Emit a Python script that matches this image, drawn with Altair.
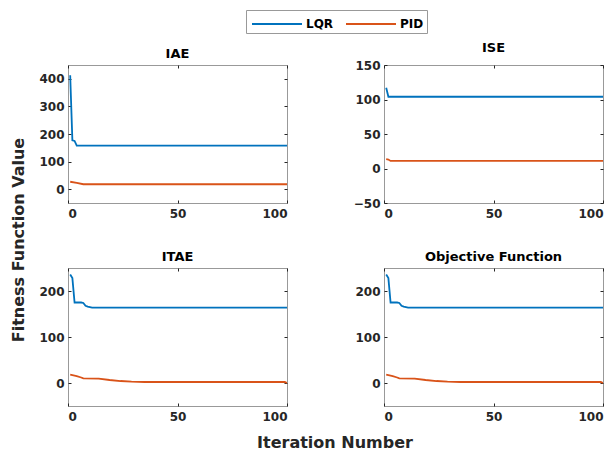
import altair as alt
import pandas as pd

# ---- data ----
series_names = ["LQR", "PID"]
series_colors = ["#0072BD", "#D95319"]

iae_lqr_x = [1, 2, 3, 4, 100]
iae_lqr_y = [413, 177, 175, 158, 158]
iae_pid_x = [1, 4, 7, 100]
iae_pid_y = [27, 23, 18, 18]

ise_lqr_x = [1, 2, 100]
ise_lqr_y = [117, 104, 104]
ise_pid_x = [1, 2, 3, 100]
ise_pid_y = [13.5, 13, 11, 11]

itae_lqr_x = [1, 2, 3, 6, 7, 8, 9, 10, 11, 100]
itae_lqr_y = [236, 228, 175, 175, 174, 168, 166, 165, 164, 164]
itae_pid_x = [1, 3, 4, 6, 7, 14, 19, 24, 29, 35, 99, 100]
itae_pid_y = [18, 16, 15, 12, 10, 9.5, 6.5, 4.3, 2.9, 2.2, 2.2, 0]

obj_lqr_x = [1, 2, 3, 6, 7, 8, 9, 10, 11, 100]
obj_lqr_y = [236, 228, 175, 175, 174, 168, 166, 165, 164, 164]
obj_pid_x = [1, 3, 4, 6, 7, 14, 19, 24, 29, 35, 99, 100]
obj_pid_y = [18, 16, 15, 12, 10, 9.5, 6.5, 4.3, 2.9, 2.2, 2.2, 0]

panel_titles = ["IAE", "ISE", "ITAE", "Objective Function"]
y_domains = [[-50, 450], [-50, 150], [-50, 250], [-50, 250]]
y_ticks = [[0, 100, 200, 300, 400], [-50, 0, 50, 100, 150], [0, 100, 200], [0, 100, 200]]
x_ticks = [0, 50, 100]
x_title = "Iteration Number"
y_title = "Fitness Function Value"

W, H = 219, 138
FONT = "DejaVu Sans"


def frame(lx, ly, px, py):
    return pd.concat([
        pd.DataFrame({"iter": lx, "value": ly, "series": "LQR"}),
        pd.DataFrame({"iter": px, "value": py, "series": "PID"}),
    ], ignore_index=True)


def panel(df, title, ydom, yt, extra=None):
    xs = alt.Scale(domain=[0, 100], nice=False)
    ys = alt.Scale(domain=ydom, nice=False, zero=False)
    lines = alt.Chart(df).mark_line(strokeWidth=1.8, clip=True).encode(
        x=alt.X("iter:Q", scale=xs,
                axis=alt.Axis(values=x_ticks, title=None, offset=-3, tickSize=3,
                              labelPadding=5, domain=False, grid=False)),
        y=alt.Y("value:Q", scale=ys,
                axis=alt.Axis(values=yt, title=None, offset=-3, tickSize=3,
                              labelPadding=4, domain=False, grid=False)),
        color=alt.Color("series:N",
                        scale=alt.Scale(domain=series_names, range=series_colors),
                        title=None),
    )
    ghost = alt.Chart(df).mark_line(strokeOpacity=0).encode(
        x=alt.X("iter:Q", scale=xs,
                axis=alt.Axis(values=x_ticks, orient="top", labels=False, title=None,
                              offset=-3, tickSize=3, domain=False, grid=False)),
        y=alt.Y("value:Q", scale=ys,
                axis=alt.Axis(values=yt, orient="right", labels=False, title=None,
                              offset=-3, tickSize=3, domain=False, grid=False)),
        detail="series:N",
    )
    layers = [lines, ghost] + (extra or [])
    return alt.layer(*layers).resolve_axis(x="independent", y="independent").properties(
        width=W, height=H,
        title=alt.TitleParams(title, font=FONT, fontSize=13, fontWeight="bold",
                              color="#000000", offset=4),
    )


xt = alt.Chart(pd.DataFrame({"t": [x_title]})).mark_text(
    font=FONT, fontSize=16, fontWeight="bold", color="#262626", baseline="middle"
).encode(text="t:N", x=alt.value(267), y=alt.value(175))
yt_ = alt.Chart(pd.DataFrame({"t": [y_title]})).mark_text(
    font=FONT, fontSize=16, fontWeight="bold", color="#262626", baseline="middle", angle=270
).encode(text="t:N", x=alt.value(-49), y=alt.value(175))

p1 = panel(frame(iae_lqr_x, iae_lqr_y, iae_pid_x, iae_pid_y), panel_titles[0], y_domains[0], y_ticks[0],
           extra=[yt_])
p2 = panel(frame(ise_lqr_x, ise_lqr_y, ise_pid_x, ise_pid_y), panel_titles[1], y_domains[1], y_ticks[1])
p3 = panel(frame(itae_lqr_x, itae_lqr_y, itae_pid_x, itae_pid_y), panel_titles[2], y_domains[2], y_ticks[2],
           extra=[xt])
p4 = panel(frame(obj_lqr_x, obj_lqr_y, obj_pid_x, obj_pid_y), panel_titles[3], y_domains[3], y_ticks[3])

chart = alt.concat(p1, p2, p3, p4, columns=2, spacing={"row": 65, "column": 97},
                   bounds="flush").properties(
    padding={"left": 2, "top": 1, "right": 2, "bottom": 0},
).configure_view(stroke="#999999", strokeWidth=1).configure_axis(
    labelFont=FONT, labelFontWeight="bold", labelFontSize=12, labelColor="#262626",
    tickColor="#262626", tickWidth=1,
).configure_legend(
    orient="none", legendX=178, legendY=-55, direction="horizontal",
    symbolType="M-0.8,0H4.2", symbolSize=400, symbolStrokeWidth=2,
    labelFont=FONT, labelFontSize=12, labelFontWeight="bold", labelColor="#000000",
    strokeColor="#999999", padding=3, columnPadding=8, labelOffset=35,
    fillColor="#ffffff",
)

chart.save("out.html", embed_options={"renderer": "svg", "actions": False})
